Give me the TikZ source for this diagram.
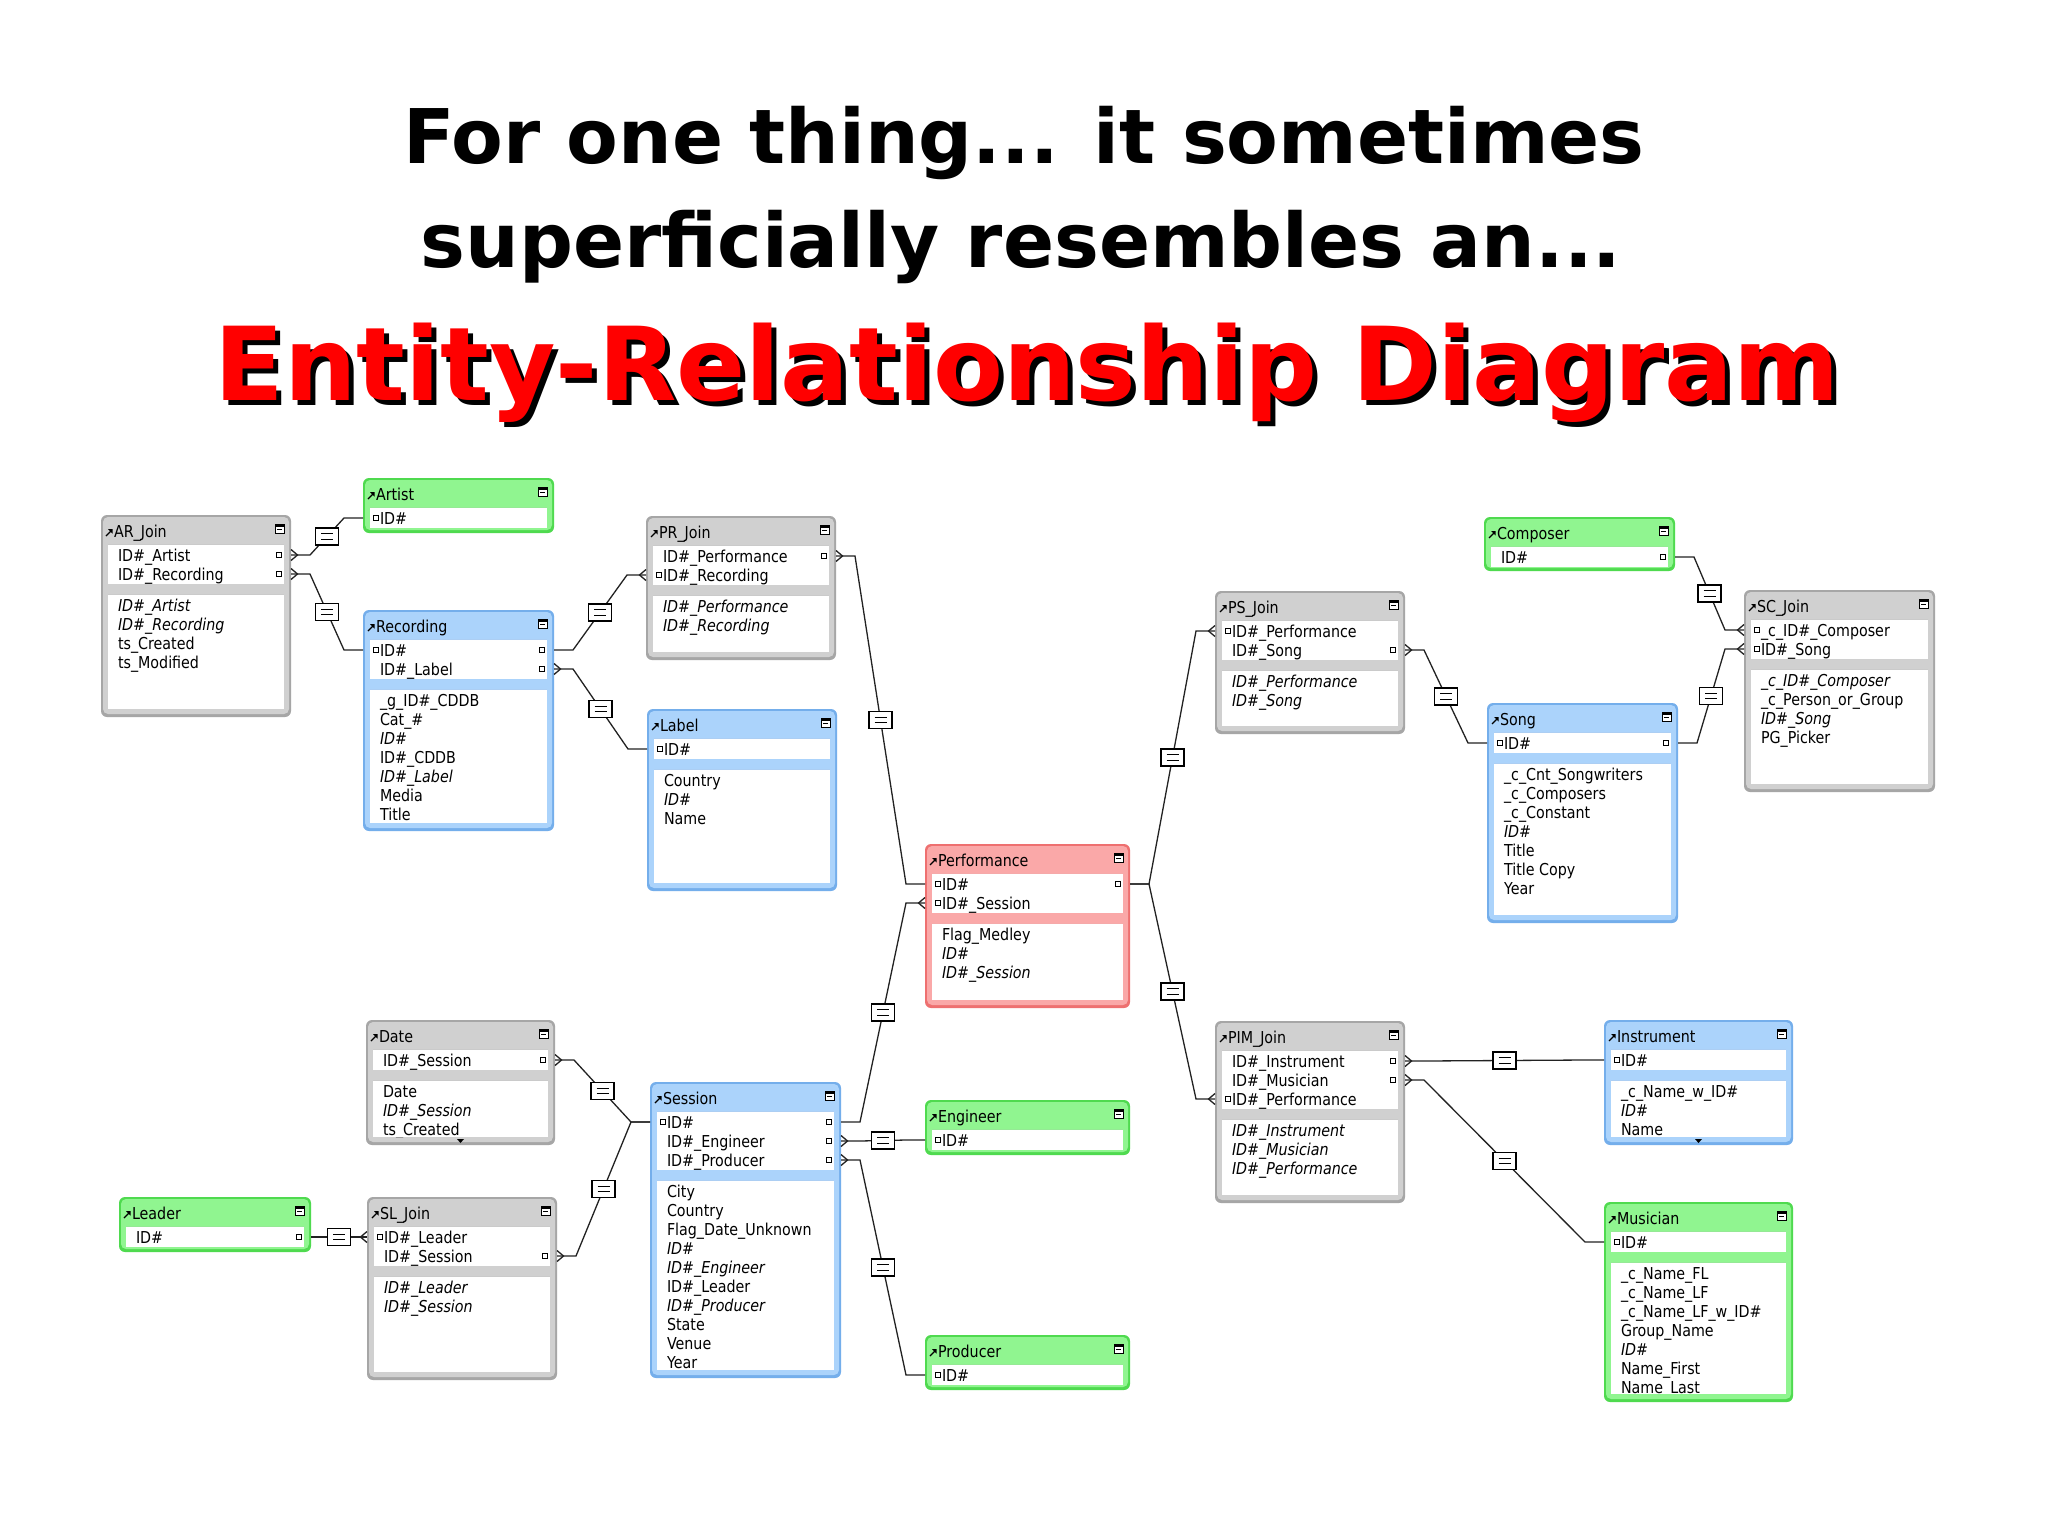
\documentclass[tikz,border=0pt]{standalone}
\usepackage{fontspec}
\setmainfont{DejaVu Sans}
\newfontfamily\erfont[FakeStretch=0.87]{DejaVu Sans}
\newfontfamily\hfont{DejaVu Sans}
\usetikzlibrary{fit,calc}
\definecolor{grayfill}{HTML}{D0D0D0}
\definecolor{grayedge}{HTML}{A6A6A6}
\definecolor{greenfill}{HTML}{90F590}
\definecolor{greenedge}{HTML}{4FDA4F}
\definecolor{bluefill}{HTML}{ABD3FB}
\definecolor{blueedge}{HTML}{74AEEB}
\definecolor{pinkfill}{HTML}{FAA8A8}
\definecolor{pinkedge}{HTML}{EE7070}
\definecolor{linecol}{HTML}{222222}
\tikzset{
  conn/.style={draw=linecol, line width=0.65pt},
  txt/.style={font=\erfont\fontsize{8.2}{10}\selectfont, inner sep=0pt, outer sep=0pt, text=black},
  marker/.style={draw=black, fill=white, line width=0.45pt},
  eqbox/.style={draw=black, fill=white, line width=0.55pt, minimum width=11.5pt, minimum height=8.5pt, inner sep=0pt,
    path picture={\draw[line width=0.5pt] ($(path picture bounding box.center)+(-3pt,1.4pt)$) -- ++(6pt,0pt)
      ($(path picture bounding box.center)+(-3pt,-1.4pt)$) -- ++(6pt,0pt);}},
  headtxt/.style={inner sep=0pt, outer sep=0pt},
}
% #1 id, #2 scheme, #3 L, #4 T, #5 R, #6 B, #7 title, #8 keys, #9 fields
\newcommand\entity[9]{%
  \node[fit={(#3,#4) (#5,#6)}, inner sep=0pt, rounded corners=3pt, fill=#2edge] (#1) {};
  \fill[#2fill, rounded corners=2.5pt] (#3+2,#4+2) rectangle (#5-2,#6-3);
  \node[txt, anchor=base west] (#1-title) at (#3+13,#4+22) {#7};
  \draw[line width=0.6pt] (#3+5,#4+21) -- (#3+10,#4+16);
  \fill (#3+7,#4+14) -- (#3+11.5,#4+14) -- (#3+11.5,#4+18.5) -- cycle;
  \draw[line width=0.45pt, fill=white] (#5-16,#4+9) rectangle (#5-7,#4+18);
  \fill (#5-16,#4+9) rectangle (#5-7,#4+12);
  \draw[line width=0.45pt] (#5-14,#4+14.5) -- (#5-9,#4+14.5);
  \foreach \rowtxt [count=\c] in {#8} {\xdef\nk{\c}}
  \pgfmathsetmacro\kb{#4+31+19*\nk}
  \fill[white] (#3+7,#4+29) rectangle (#5-7,\kb);
  \draw[#2edge!60!white, line width=0.5pt] (#3+7,#4+29) -- (#5-7,#4+29);
  \foreach \rowtxt/\lk/\rk [count=\i from 0] in {#8}{
    \pgfmathsetmacro\ry{#4+40+19*\i}
    \node[txt, anchor=base west] (#1-k\i) at (#3+17,\ry+6) {\rowtxt};
    \coordinate (#1-\i-L) at (#3,\ry);
    \coordinate (#1-\i-Ls) at (#3-19,\ry);
    \coordinate (#1-\i-R) at (#5,\ry);
    \coordinate (#1-\i-Rs) at (#5+19,\ry);
    \ifnum\lk>0 \draw[marker] (#3+10,\ry-2.5) rectangle (#3+15,\ry+2.5);\fi
    \ifnum\lk>1 \draw[conn] (#3,\ry-5.5) -- (#3-6.5,\ry) -- (#3,\ry+5.5);\fi
    \ifnum\rk>0 \draw[marker] (#5-15,\ry-2.5) rectangle (#5-10,\ry+2.5);\fi
    \ifnum\rk>1 \draw[conn] (#5,\ry-5.5) -- (#5+6.5,\ry) -- (#5,\ry+5.5);\fi
  }
  \if\relax\detokenize{#9}\relax\else
    \pgfmathsetmacro\st{\kb+10}
    \fill[white] (#3+7,\st) rectangle (#5-7,#6-8);
    \draw[#2edge!60!white, line width=0.5pt] (#3+7,\st) -- (#5-7,\st);
    \begin{scope}
      \clip (#3+7,\st) rectangle (#5-7,#6-8);
      \foreach \rowtxt/\ff [count=\j from 0] in {#9}{
        \pgfmathsetmacro\fy{\st+11+19*\j}
        \node[txt, anchor=base west] (#1-f\j) at (#3+17,\fy+6) {\ifnum\ff=1 \itshape\fi\rowtxt};
      }
    \end{scope}
  \fi
}
\newcommand\rel[2]{%
  \draw[conn] (#1) -- (#1s) -- (#2s) -- (#2);
  \node[eqbox] (eq-#1-#2) at ($(#1s)!0.5!(#2s)$) {};
}
\newcommand\shadowed[1]{\makebox[0pt][l]{\hspace{2.5pt}\raisebox{-2.5pt}{\color{black}#1}}\color{red}#1}
\begin{document}
\begin{tikzpicture}[x=0.5pt,y=-0.5pt]
\useasboundingbox (0,0) rectangle (2048,1536);
\fill[white] (0,0) rectangle (2048,1536);
% titles
\node[headtxt, anchor=base, font=\hfont\bfseries\fontsize{37.7}{40}\selectfont] (t1) at (1024,163) {For one thing... it sometimes};
\node[headtxt, anchor=base, font=\hfont\bfseries\fontsize{37.7}{40}\selectfont] (t2) at (1021,267) {superficially resembles an...};
\node[headtxt, anchor=base, font=\hfont\bfseries\fontsize{51}{55}\selectfont] (t3) at (1027,400) {\shadowed{Entity-Relationship Diagram}};
% entities
\entity{ARJ}{gray}{101}{515}{291}{717}{AR\_Join}{ID\#\_Artist/0/2, ID\#\_Recording/0/2}{ID\#\_Artist/1, ID\#\_Recording/1, ts\_Created/0, ts\_Modified/0}
\entity{ART}{green}{363}{478}{554}{533}{Artist}{ID\#/1/0}{}
\entity{REC}{blue}{363}{610}{554}{831}{Recording}{ID\#/1/1, ID\#\_Label/0/2}{\_g\_ID\#\_CDDB/0, Cat\_\#/0, ID\#/1, ID\#\_CDDB/0, ID\#\_Label/1, Media/0, Title/0}
\entity{PRJ}{gray}{646}{516}{836}{660}{PR\_Join}{ID\#\_Performance/0/2, ID\#\_Recording/2/0}{ID\#\_Performance/1, ID\#\_Recording/1}
\entity{LAB}{blue}{647}{709}{837}{891}{Label}{ID\#/1/0}{Country/0, ID\#/1, Name/0}
\entity{PERF}{pink}{925}{844}{1130}{1008}{Performance}{ID\#/1/1, ID\#\_Session/2/0}{Flag\_Medley/0, ID\#/1, ID\#\_Session/1}
\entity{PSJ}{gray}{1215}{591}{1405}{734}{PS\_Join}{ID\#\_Performance/2/0, ID\#\_Song/0/2}{ID\#\_Performance/1, ID\#\_Song/1}
\entity{COMP}{green}{1484}{517}{1675}{571}{Composer}{ID\#/0/1}{}
\entity{SCJ}{gray}{1744}{590}{1935}{792}{SC\_Join}{\_c\_ID\#\_Composer/2/0, ID\#\_Song/2/0}{\_c\_ID\#\_Composer/1, \_c\_Person\_or\_Group/0, ID\#\_Song/1, PG\_Picker/0}
\entity{SONG}{blue}{1487}{703}{1678}{923}{Song}{ID\#/1/1}{\_c\_Cnt\_Songwriters/0, \_c\_Composers/0, \_c\_Constant/0, ID\#/1, Title/0, Title Copy/0, Year/0}
\entity{PIMJ}{gray}{1215}{1021}{1405}{1203}{PIM\_Join}{ID\#\_Instrument/0/2, ID\#\_Musician/0/2, ID\#\_Performance/2/0}{ID\#\_Instrument/1, ID\#\_Musician/1, ID\#\_Performance/1}
\entity{INST}{blue}{1604}{1020}{1793}{1145}{Instrument}{ID\#/1/0}{\_c\_Name\_w\_ID\#/0, ID\#/1, Name/0}
\entity{MUS}{green}{1604}{1202}{1793}{1402}{Musician}{ID\#/1/0}{\_c\_Name\_FL/0, \_c\_Name\_LF/0, \_c\_Name\_LF\_w\_ID\#/0, Group\_Name/0, ID\#/1, Name\_First/0, Name\_Last/0}
\entity{DATE}{gray}{366}{1020}{555}{1145}{Date}{ID\#\_Session/0/2}{Date/0, ID\#\_Session/1, ts\_Created/0}
\entity{SESS}{blue}{650}{1082}{841}{1378}{Session}{ID\#/1/1, ID\#\_Engineer/0/2, ID\#\_Producer/0/2}{City/0, Country/0, Flag\_Date\_Unknown/0, ID\#/1, ID\#\_Engineer/1, ID\#\_Leader/0, ID\#\_Producer/1, State/0, Venue/0, Year/0}
\entity{ENG}{green}{925}{1100}{1130}{1155}{Engineer}{ID\#/1/0}{}
\entity{PROD}{green}{925}{1335}{1130}{1390}{Producer}{ID\#/1/0}{}
\entity{LEAD}{green}{119}{1197}{311}{1252}{Leader}{ID\#/0/1}{}
\entity{SLJ}{gray}{367}{1197}{557}{1380}{SL\_Join}{ID\#\_Leader/2/0, ID\#\_Session/0/2}{ID\#\_Leader/1, ID\#\_Session/1}
% scroll indicators
\fill (457,1139) -- (464,1139) -- (460.5,1143) -- cycle;
\fill (1695,1139) -- (1702,1139) -- (1698.5,1143) -- cycle;
% relationships
\rel{ARJ-0-R}{ART-0-L}
\rel{ARJ-1-R}{REC-0-L}
\rel{REC-0-R}{PRJ-1-L}
\rel{REC-1-R}{LAB-0-L}
\rel{PRJ-0-R}{PERF-0-L}
\rel{SESS-0-R}{PERF-1-L}
\rel{PERF-0-R}{PSJ-0-L}
\rel{PERF-0-R}{PIMJ-2-L}
\rel{PSJ-1-R}{SONG-0-L}
\rel{COMP-0-R}{SCJ-0-L}
\rel{SONG-0-R}{SCJ-1-L}
\rel{PIMJ-0-R}{INST-0-L}
\rel{PIMJ-1-R}{MUS-0-L}
\rel{DATE-0-R}{SESS-0-L}
\rel{SLJ-1-R}{SESS-0-L}
\rel{LEAD-0-R}{SLJ-0-L}
\rel{SESS-1-R}{ENG-0-L}
\rel{SESS-2-R}{PROD-0-L}
\end{tikzpicture}
\end{document}
